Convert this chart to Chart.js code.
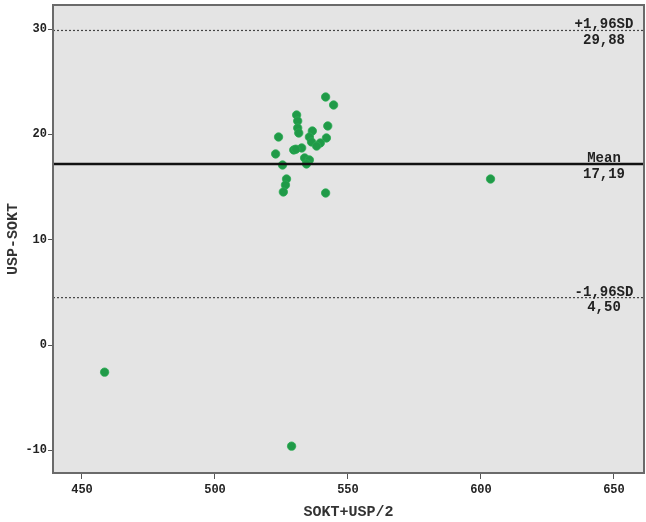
<!DOCTYPE html>
<html>
<head>
<meta charset="utf-8">
<script src="https://cdn.jsdelivr.net/npm/chart.js@4/dist/chart.umd.min.js"></script>
<style>
html,body{margin:0;padding:0;background:#fff;}
#wrap{width:646px;height:522px;}
</style>
</head>
<body>
<div id="wrap"><canvas id="c" width="646" height="522"></canvas></div>
<script>
const xVals = [458.5, 528.8, 603.6, 541.6, 544.6, 530.7, 531.1, 531.1, 531.5, 542.4,
               523.9, 536.6, 535.5, 536.3, 541.9, 539.6, 522.8, 529.6, 532.6, 533.7,
               535.5, 534.4, 525.4, 526.9, 526.5, 525.7, 541.6, 530.4, 538.2];
const yVals = [-2.58, -9.61, 15.77, 23.56, 22.80, 21.85, 21.28, 20.62, 20.14, 20.81,
               19.76, 20.33, 19.76, 19.29, 19.67, 19.19, 18.15, 18.53, 18.72, 17.77,
               17.58, 17.20, 17.10, 15.77, 15.20, 14.54, 14.44, 18.60, 18.90];
const xTicks = [450, 500, 550, 600, 650];
const yTicks = [-10, 0, 10, 20, 30];
const refValues = [29.88, 17.19, 4.50];
const refNames = ['+1,96SD', 'Mean', '-1,96SD'];
const refLabels = ['29,88', '17,19', '4,50'];
const refSolid = [false, true, false];

const MONO = '"Liberation Mono", "DejaVu Sans Mono", monospace';

const points = xVals.map((x, i) => ({x: x, y: yVals[i]}));

function zeroPad(s) {
  s.paddingTop = 0; s.paddingBottom = 0; s.paddingLeft = 0; s.paddingRight = 0;
}

const areaFix = {
  id: 'areaFix',
  afterLayout(chart) {
    const target = chart.width - 2;
    const a = chart.chartArea;
    if (Math.abs(a.right - target) > 0.5) {
      a.right = target;
      a.width = a.right - a.left;
      const x = chart.scales.x;
      x.right = target;
      x.width = x.right - x.left;
      x.configure();
    }
  }
};

const framePlugin = {
  id: 'frame',
  beforeDatasetsDraw(chart) {
    const {ctx, chartArea: a} = chart;
    ctx.save();
    ctx.fillStyle = '#e4e4e4';
    ctx.fillRect(a.left, a.top, a.right - a.left, a.bottom - a.top);
    ctx.restore();
  },
  afterDatasetsDraw(chart) {
    const {ctx, chartArea: a, scales} = chart;
    ctx.save();
    refValues.forEach((v, i) => {
      const py = scales.y.getPixelForValue(v);
      ctx.beginPath();
      if (refSolid[i]) {
        ctx.setLineDash([]);
        ctx.lineWidth = 2.5;
        ctx.strokeStyle = '#111';
      } else {
        ctx.setLineDash([2, 2]);
        ctx.lineWidth = 1.2;
        ctx.strokeStyle = '#444';
      }
      ctx.moveTo(a.left, py);
      ctx.lineTo(a.right, py);
      ctx.stroke();
      ctx.setLineDash([]);
      ctx.fillStyle = '#222';
      ctx.font = 'bold 14px ' + MONO;
      ctx.textAlign = 'center';
      ctx.textBaseline = 'alphabetic';
      ctx.fillText(refNames[i], 604, py - 2);
      ctx.textBaseline = 'top';
      ctx.fillText(refLabels[i], 604, py + 3);
    });
    ctx.lineWidth = 2;
    ctx.strokeStyle = '#6a6a6a';
    ctx.strokeRect(a.left, a.top, a.right - a.left, a.bottom - a.top);
    ctx.restore();
  }
};

new Chart(document.getElementById('c'), {
  type: 'scatter',
  data: {
    datasets: [{
      data: points,
      pointRadius: 4.2,
      pointHoverRadius: 4.2,
      backgroundColor: '#209a48',
      borderColor: '#2aab52',
      borderWidth: 0.8
    }]
  },
  options: {
    responsive: false,
    animation: false,
    events: [],
    layout: {padding: {top: 5, right: 2, left: 0, bottom: 0}},
    plugins: {legend: {display: false}, tooltip: {enabled: false}},
    scales: {
      x: {
        type: 'linear',
        min: 439.1,
        max: 661.3,
        afterBuildTicks: s => { s.ticks = xTicks.map(v => ({value: v})); },
        afterFit: s => { s.height = 49; zeroPad(s); },
        grid: {drawOnChartArea: false, drawTicks: true, tickLength: 6, color: '#555', lineWidth: 1},
        border: {display: false},
        ticks: {
          font: {family: MONO, size: 12, weight: 'bold'},
          color: '#222',
          padding: 4,
          maxRotation: 0,
          autoSkip: false
        },
        title: {
          display: true,
          text: 'SOKT+USP/2',
          font: {family: MONO, size: 15, weight: 'bold'},
          color: '#333',
          padding: {top: 1, bottom: 1}
        }
      },
      y: {
        type: 'linear',
        min: -12.16,
        max: 32.3,
        afterBuildTicks: s => { s.ticks = yTicks.map(v => ({value: v})); },
        afterFit: s => { s.width = 53; zeroPad(s); },
        grid: {drawOnChartArea: false, drawTicks: true, tickLength: 5, color: '#555', lineWidth: 1},
        border: {display: false},
        ticks: {
          font: {family: MONO, size: 12, weight: 'bold'},
          color: '#222',
          padding: 1,
          autoSkip: false
        },
        title: {
          display: true,
          text: 'USP-SOKT',
          font: {family: MONO, size: 15, weight: 'bold'},
          color: '#333',
          padding: {top: 4, bottom: 4}
        }
      }
    }
  },
  plugins: [areaFix, framePlugin]
});
</script>
</body>
</html>
